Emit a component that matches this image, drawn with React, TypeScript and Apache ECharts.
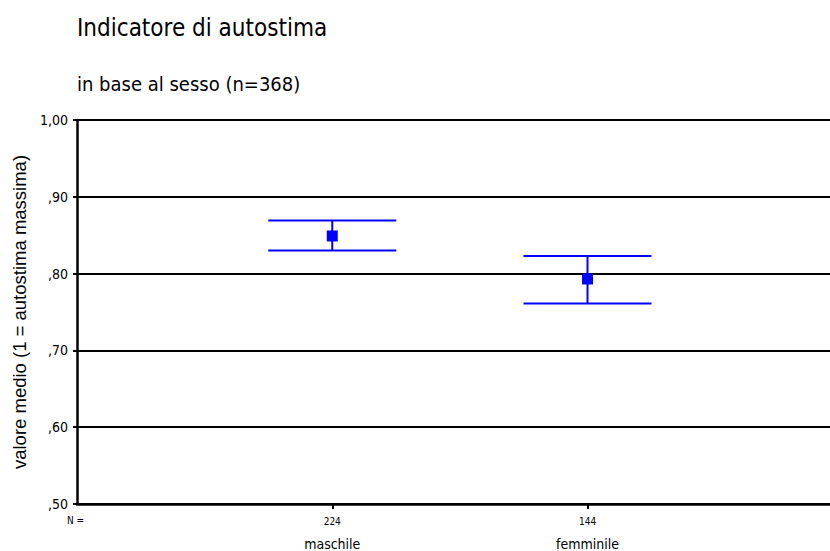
import React, { useEffect, useRef } from "react";
import * as echarts from "echarts";

const categories = ["maschile", "femminile"];
const counts = [224, 144];
const means = [0.849, 0.793];
const lower = [0.83, 0.761];
const upper = [0.869, 0.823];

const COND = "'DejaVu Sans Condensed', 'DejaVu Sans', sans-serif";
const BLUE = "#0000ff";

export default function App() {
  const ref = useRef<HTMLDivElement>(null);
  useEffect(() => {
    document.body.style.margin = "0";
    const chart = echarts.init(ref.current!, null, { renderer: "svg" });
    const data = categories.map((c, i) => [i + 1, means[i], lower[i], upper[i]]);
    chart.setOption({
      animation: false,
      backgroundColor: "#ffffff",
      grid: { left: 77, top: 120, right: 0, height: 385 },
      graphic: [
        { type: "text", left: 77, top: 16, style: { text: "Indicatore di autostima", font: `24px ${COND}`, fill: "#000" } },
        { type: "text", left: 77, top: 74, style: { text: "in base al sesso (n=368)", font: `20px ${COND}`, fill: "#000" } },
        { type: "text", left: 67, top: 515, style: { text: "N =", font: `10px ${COND}`, fill: "#000" } },
      ],
      xAxis: {
        type: "value",
        min: 0,
        max: 2.95,
        interval: 1,
        splitLine: { show: false },
        axisLine: { show: true, lineStyle: { color: "#000", width: 2.5 } },
        axisTick: { show: true, length: 5, lineStyle: { color: "#000", width: 2 }, customValues: [1, 2] },
        axisLabel: {
          customValues: [1, 2],
          margin: 8,
          formatter: (v: number) => {
            const i = Math.round(v) - 1;
            if (i < 0 || i >= categories.length) return "";
            return `{n|${counts[i]}}\n{c|${categories[i]}}`;
          },
          rich: {
            n: { fontFamily: COND, fontSize: 10, lineHeight: 18, color: "#000" },
            c: { fontFamily: COND, fontSize: 14, lineHeight: 28, color: "#000" },
          },
        },
      },
      yAxis: {
        type: "value",
        min: 0.5,
        max: 1.0,
        interval: 0.1,
        name: "valore medio (1 = autostima massima)",
        nameLocation: "middle",
        nameRotate: 90,
        nameGap: 45,
        nameTextStyle: { fontFamily: "'Liberation Sans', Arial, sans-serif", fontSize: 18.5, color: "#000" },
        axisLine: { show: true, lineStyle: { color: "#000", width: 2.5 } },
        axisTick: { show: true, length: 4, lineStyle: { color: "#000", width: 2 } },
        splitLine: { show: true, lineStyle: { color: "#000", width: 2 } },
        axisLabel: {
          margin: 9,
          fontFamily: COND,
          fontSize: 14,
          color: "#000",
          formatter: (v: number) => {
            const s = v.toFixed(2).replace(".", ",");
            return s.startsWith("0") ? s.slice(1) : s;
          },
        },
      },
      series: [
        {
          type: "custom",
          data,
          renderItem: (params: any, api: any) => {
            const x = api.value(0);
            const pm = api.coord([x, api.value(1)]);
            const pl = api.coord([x, api.value(2)]);
            const ph = api.coord([x, api.value(3)]);
            const hw = 64;
            const s = 5.5;
            const ls = { stroke: BLUE, lineWidth: 2 };
            return {
              type: "group",
              children: [
                { type: "line", shape: { x1: pl[0] - hw, y1: pl[1], x2: pl[0] + hw, y2: pl[1] }, style: ls },
                { type: "line", shape: { x1: ph[0] - hw, y1: ph[1], x2: ph[0] + hw, y2: ph[1] }, style: ls },
                { type: "line", shape: { x1: pl[0], y1: pl[1], x2: ph[0], y2: ph[1] }, style: ls },
                { type: "rect", shape: { x: pm[0] - s, y: pm[1] - s, width: 2 * s, height: 2 * s }, style: { fill: BLUE } },
              ],
            };
          },
        },
      ],
    });
    return () => chart.dispose();
  }, []);
  return <div ref={ref} style={{ width: 830, height: 551 }} />;
}
